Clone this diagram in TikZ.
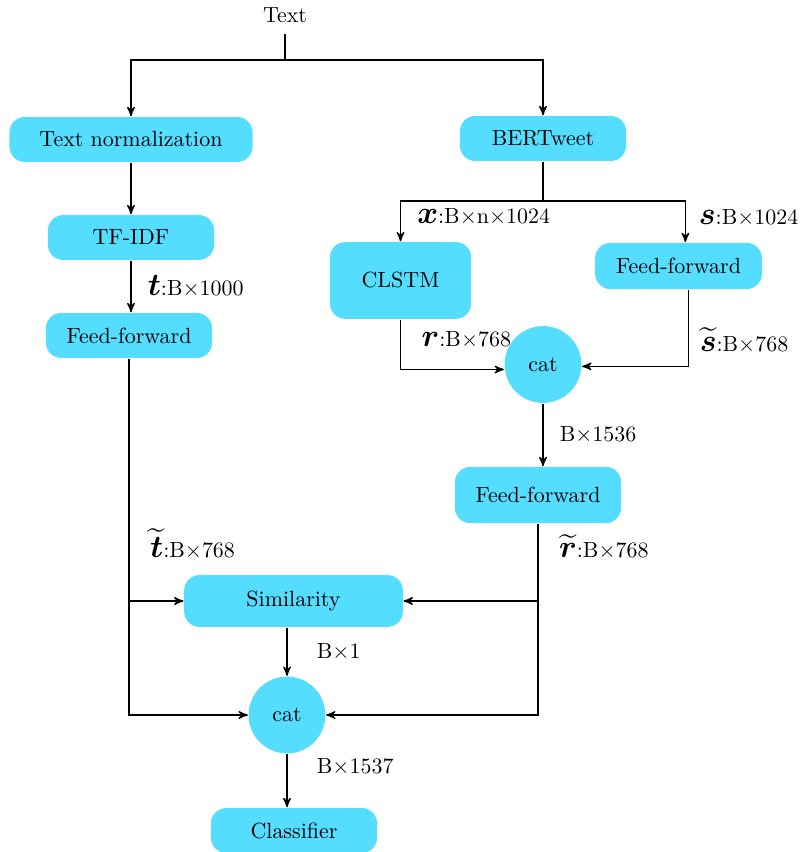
\documentclass[tikz,border=0pt]{standalone}
\usepackage{amsfonts,amssymb,amsmath}
\usetikzlibrary{arrows}
\usetikzlibrary{calc}
\definecolor{boxblue}{RGB}{85,221,255}
\newcommand{\vsym}[1]{{\Large$\boldsymbol{#1}$}}
\newcommand{\vtil}[1]{{\Large$\widetilde{\boldsymbol{#1}}$}}

\begin{document}
\begin{tikzpicture}[x=0.016cm, y=-0.016cm, >=stealth', semithick,
	block/.style={fill=boxblue, rounded corners=7pt, align=center},
	catnode/.style={circle, fill=boxblue, minimum size=1.23cm},
	lbl/.style={right, xshift=4pt}]
	\useasboundingbox (0,0) rectangle (800,852);
	\node[inner sep=5pt] (text) at (285,15) {Text};
	\foreach \nm/\x/\y/\w/\h/\txt in {norm/131/139.5/3.89/0.72/Text normalization,
			bert/543/138.5/2.66/0.72/BERTweet, tfidf/131/237.5/2.66/0.72/TF-IDF,
			ffl/129/335.5/2.66/0.72/Feed-forward, clstm/400.5/280.5/2.26/1.23/CLSTM,
			ffr/678.5/266/2.67/0.74/Feed-forward, ffm/538/495/2.66/0.9/Feed-forward,
			sim/293.5/601/3.5/0.83/Similarity, clf/294/830.5/2.66/0.72/Classifier} {
		\node[block, minimum width=\w cm, minimum height=\h cm] (\nm) at (\x,\y) {\txt};
	}
	\foreach \nm/\x/\y in {cat1/543/364.5, cat2/287/715} {
		\node[catnode] (\nm) at (\x,\y) {cat};
	}
	% branch points
	\coordinate (split) at (285,60);
	\coordinate (bsplit) at (bert |- 0,201);
	\coordinate (tbr) at (ffl |- sim);
	\coordinate (rbr) at (ffm |- sim);

	\draw (text) -- (split);
	\draw[->] (split) -| (norm);
	\draw[->] (split) -| (bert);
	\draw[->] (norm) -- (tfidf);
	\draw[->] (tfidf) -- node[lbl] {\vsym{t}:B$\times$1000} (tfidf |- ffl.north);
	\draw (bert) -- (bsplit);
	\draw[->] (bsplit) -| node[lbl, pos=0.7] {\vsym{x}:B$\times$n$\times$1024} (clstm);
	\draw[->] (bsplit) -| node[lbl, pos=0.7, xshift=-1.5pt] {\vsym{s}:B$\times$1024} ([xshift=0.11cm]ffr.north);
	\draw[->] (clstm.south) |- node[lbl, pos=0.2, xshift=2pt] {\vsym{r}:B$\times$768} ([yshift=-0.08cm]cat1.west);
	\draw[->] ([xshift=0.16cm]ffr.south) |- node[lbl, pos=0.33, xshift=-2.5pt] {\vtil{s}:B$\times$768} ([yshift=-0.03cm]cat1.east);
	\draw[->] (cat1) -- node[lbl] {B$\times$1536} (cat1 |- ffm.north);
	\draw[->] (ffl) |- node[lbl, pos=0.26, xshift=2pt] {\vtil{t}:B$\times$768} (cat2);
	\draw[->] (tbr) -- (sim);
	\draw[->] (ffm) |- node[lbl, pos=0.06, xshift=2pt] {\vtil{r}:B$\times$768} (cat2);
	\draw[->] (rbr) -- (sim);
	\draw[->] (cat2 |- sim.south) -- node[lbl, xshift=6pt] {B$\times$1} (cat2);
	\draw[->] (cat2) -- node[lbl, pos=0.25, xshift=6pt] {B$\times$1537} (cat2 |- clf.north);
\end{tikzpicture}
\end{document}
